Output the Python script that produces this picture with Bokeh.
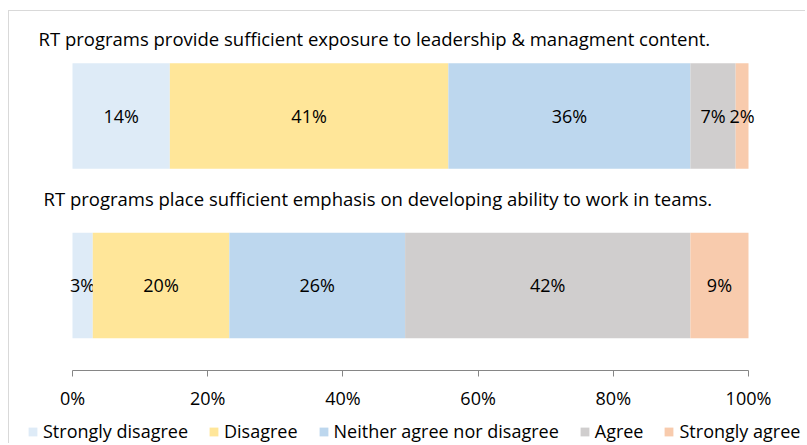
from bokeh.plotting import figure
from bokeh.layouts import column
from bokeh.models import ColumnDataSource, Range1d, Legend, LegendItem, FixedTicker
from bokeh.core.properties import value
from bokeh.embed import file_html
from bokeh.resources import INLINE

questions = [
    "RT programs provide sufficient exposure to leadership & managment content.",
    "RT programs place sufficient emphasis on developing ability to work in teams.",
]
categories = ["Strongly disagree", "Disagree", "Neither agree nor disagree", "Agree", "Strongly agree"]
colors = ["#DEEBF7", "#FFE699", "#BDD7EE", "#D0CECE", "#F8CBAD"]
q1_values = [14.4, 41.2, 35.8, 6.7, 1.9]
q2_values = [3.0, 20.2, 26.0, 42.2, 8.6]
tick_values = [0, 20, 40, 60, 80, 100]
tick_labels = ["0%", "20%", "40%", "60%", "80%", "100%"]

FONT = "Open Sans"
FS = "18px"

rows_y = [1, 0]
series = [q1_values, q2_values]

p = figure(width=797, height=401, output_backend="svg", toolbar_location=None,
           x_range=Range1d(-63 / 6.76, (797 - 63) / 6.76),
           y_range=Range1d(-0.5015, 1.6165),
           min_border_left=0, min_border_right=0, min_border_top=0, min_border_bottom=42)
p.styles = {"border-left": "1px solid #d9d9d9", "border-top": "1px solid #d9d9d9"}
p.outline_line_color = None
p.xgrid.visible = False
p.ygrid.visible = False
p.yaxis.visible = False
p.background_fill_color = "white"
p.border_fill_color = "white"

# legend strip (its glyphs share the bar data but lie outside its view)
lg = figure(width=797, height=32, output_backend="svg", toolbar_location=None,
            x_range=Range1d(1000, 1001), y_range=Range1d(1000, 1001),
            min_border_left=0, min_border_right=0, min_border_top=0, min_border_bottom=0)
lg.styles = {"border-left": "1px solid #d9d9d9"}
lg.outline_line_color = None
lg.xgrid.visible = False
lg.ygrid.visible = False
lg.xaxis.visible = False
lg.yaxis.visible = False

legend_items = []
lefts = [0.0, 0.0]
for i, cat in enumerate(categories):
    vals = [s[i] for s in series]
    left = list(lefts)
    right = [l + v for l, v in zip(left, vals)]
    src = ColumnDataSource(dict(y=rows_y, left=left, right=right,
                                mid=[(a + b) / 2 for a, b in zip(left, right)],
                                lab=["%d%%" % round(v) for v in vals]))
    p.hbar(y="y", left="left", right="right", height=0.622, source=src,
           fill_color=colors[i], line_color=None)
    p.text(x="mid", y="y", text="lab", source=src, text_align="center", text_baseline="middle",
           text_font=value(FONT), text_font_size=FS, text_color="#000000")
    swatch = lg.hbar(y="y", left="left", right="right", height=0.622, source=src,
                     fill_color=colors[i], line_color=None)
    legend_items.append(LegendItem(label=cat, renderers=[swatch]))
    lefts = right

qsrc = ColumnDataSource(dict(x=[0, 0], y=rows_y, text=questions, xo=[-34, -29], yo=[-77.5, -87]))
p.text(x="x", y="y", text="text", x_offset="xo", y_offset="yo", source=qsrc,
       text_align="left", text_baseline="middle", text_font=value(FONT), text_font_size="18.5px",
       text_color="#000000")

ax = p.xaxis[0]
ax.ticker = FixedTicker(ticks=tick_values)
ax.major_label_overrides = {t: l for t, l in zip(tick_values, tick_labels)}
ax.bounds = (0, 100)
ax.axis_line_color = "#868686"
ax.major_tick_line_color = "#868686"
ax.minor_tick_line_color = None
ax.major_tick_in = 0
ax.major_tick_out = 6
ax.major_label_standoff = 9
ax.major_label_text_font = FONT
ax.major_label_text_font_size = FS
ax.major_label_text_color = "#000000"

legend = Legend(items=legend_items, orientation="horizontal", location=(18, 0),
                glyph_width=11, glyph_height=11, label_standoff=5, spacing=20,
                padding=0, margin=0, label_text_font=FONT, label_text_font_size=FS,
                label_text_color="#000000", border_line_color=None, background_fill_alpha=0)
lg.add_layout(legend, "center")

layout = column(p, lg, spacing=0)
layout.styles = {"margin-left": "8px", "margin-top": "10px"}

open("out.html", "w").write(file_html(layout, INLINE))
